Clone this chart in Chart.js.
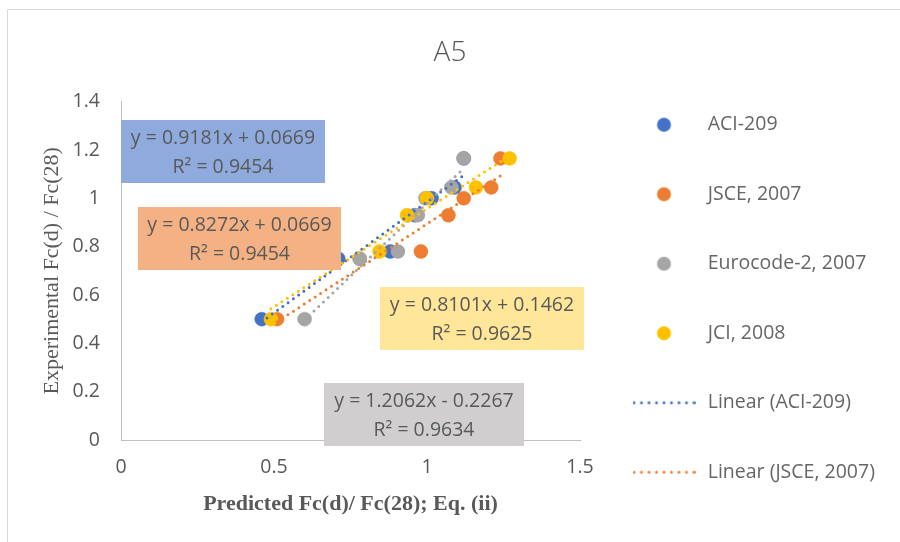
<!DOCTYPE html>
<html>
<head>
<meta charset="utf-8">
<script src="https://cdn.jsdelivr.net/npm/chart.js@4.4.1/dist/chart.umd.min.js"></script>
<style>
  html, body { margin: 0; padding: 0; background: #fff; }
  #wrap { width: 900px; height: 542px; }
</style>
</head>
<body>
<div id="wrap"><canvas id="myChart" width="900" height="542"></canvas></div>
<script>
// experimental Fc(d)/Fc(28) - same set of ages for every model
var experimental = [0.5, 0.75, 0.78, 0.93, 1.0, 1.045, 1.165];

// predicted Fc(d)/Fc(28) per model
var aci209   = [0.46, 0.71, 0.88, 0.96, 1.015, 1.09, 1.12];
var jsce     = [0.51, 0.78, 0.98, 1.07, 1.12, 1.21, 1.24];
var eurocode = [0.60, 0.78, 0.905, 0.97, 0.995, 1.08, 1.12];
var jci      = [0.49, 0.66, 0.845, 0.935, 1.0, 1.16, 1.27];

var seriesNames = ['ACI-209', 'JSCE, 2007', 'Eurocode-2, 2007', 'JCI, 2008'];
var seriesColors = ['#4472C4', '#ED7D31', '#A5A5A5', '#FFC000'];

// trendline equations as printed on the chart
var slopes = [0.9181, 0.8272, 1.2062, 0.8101];
var intercepts = [0.0669, 0.0669, -0.2267, 0.1462];
var eqLabels = ['y = 0.9181x + 0.0669', 'y = 0.8272x + 0.0669', 'y = 1.2062x - 0.2267', 'y = 0.8101x + 0.1462'];
var r2Labels = ['R\u00B2 = 0.9454', 'R\u00B2 = 0.9454', 'R\u00B2 = 0.9634', 'R\u00B2 = 0.9625'];

var xTicks = [0, 0.5, 1, 1.5];
var yTicks = [0, 0.2, 0.4, 0.6, 0.8, 1, 1.2, 1.4];

var textColor = '#595959';
var sansFont = "'Open Sans', 'Noto Sans', sans-serif";
var serifFont = "'Liberation Serif', 'DejaVu Serif', serif";

function points(xs) {
    return xs.map(function (x, i) { return { x: x, y: experimental[i] }; });
}

function trend(xs, k) {
    var lo = Math.min.apply(null, xs);
    var hi = Math.max.apply(null, xs);
    return [
        { x: lo, y: slopes[k] * lo + intercepts[k] },
        { x: hi, y: slopes[k] * hi + intercepts[k] }
    ];
}

// little pictures for the legend: a marker or a dotted line
function legendImage(color, kind) {
    var c = document.createElement('canvas');
    c.width = 63;
    c.height = 16;
    var g = c.getContext('2d');
    g.fillStyle = color;
    if (kind === 'dot') {
        g.beginPath();
        g.arc(31.5, 8, 7, 0, Math.PI * 2);
        g.fill();
    } else {
        for (var i = 0; i < 9; i++) {
            g.beginPath();
            g.arc(1.5 + i * 7.5, 8, 1.5, 0, Math.PI * 2);
            g.fill();
        }
    }
    return c;
}

function plainNumber(v) {
    return String(Math.round(v * 100) / 100);
}

var allX = [aci209, jsce, eurocode, jci];
var datasets = [];

allX.forEach(function (xs, k) {
    datasets.push({
        label: seriesNames[k],
        data: points(xs),
        backgroundColor: seriesColors[k],
        borderColor: seriesColors[k],
        borderWidth: 0.5,
        pointRadius: 7,
        pointHoverRadius: 7,
        order: 8 - k
    });
});

allX.forEach(function (xs, k) {
    datasets.push({
        label: 'Linear (' + seriesNames[k] + ')',
        data: trend(xs, k),
        showLine: true,
        borderColor: seriesColors[k],
        borderWidth: 3,
        borderDash: [0, 6.5],
        borderCapStyle: 'round',
        pointRadius: 0,
        order: 4 - k
    });
});

// equation boxes, same order as the series
var eqBoxes = [
    { x: 121, y: 120, w: 204, h: 63, fill: '#8FAADC' },
    { x: 138, y: 207, w: 203, h: 63, fill: '#F4B183' },
    { x: 324, y: 383, w: 200, h: 63, fill: '#D0CECE' },
    { x: 380, y: 287, w: 204, h: 63, fill: '#FFE699' }
];

var eqPlugin = {
    id: 'eqPlugin',
    beforeDraw: function (chart) {
        var ctx = chart.ctx;
        ctx.save();
        ctx.fillStyle = '#ffffff';
        ctx.fillRect(0, 0, chart.width, chart.height);
        ctx.strokeStyle = '#D9D9D9';
        ctx.lineWidth = 1;
        ctx.beginPath();
        ctx.moveTo(7.5, chart.height);
        ctx.lineTo(7.5, 9.5);
        ctx.lineTo(chart.width, 9.5);
        ctx.stroke();
        ctx.restore();
    },
    afterDatasetsDraw: function (chart) {
        var ctx = chart.ctx;
        ctx.save();
        ctx.font = '19.5px ' + sansFont;
        ctx.textAlign = 'center';
        ctx.textBaseline = 'middle';
        eqBoxes.forEach(function (b, k) {
            ctx.fillStyle = b.fill;
            ctx.fillRect(b.x, b.y, b.w, b.h);
            ctx.fillStyle = textColor;
            ctx.fillText(eqLabels[k], b.x + b.w / 2, b.y + 18);
            ctx.fillText(r2Labels[k], b.x + b.w / 2, b.y + 47);
        });
        ctx.restore();
    },
    afterInit: function (chart) {
        // legend fills the space right of the plot
        var lg = chart.legend;
        var fit = lg.fit;
        lg.fit = function () {
            fit.call(this);
            this.width = 320;
        };
    }
};

var ctx = document.getElementById('myChart').getContext('2d');

var myChart = new Chart(ctx, {
    type: 'scatter',
    data: { datasets: datasets },
    plugins: [eqPlugin],
    options: {
        responsive: false,
        animation: false,
        layout: { padding: 0 },
        plugins: {
            tooltip: { enabled: false },
            title: {
                display: true,
                text: 'A5',
                color: textColor,
                font: { family: sansFont, size: 28, weight: '300' },
                padding: { top: 36, bottom: 32 }
            },
            legend: {
                position: 'right',
                align: 'start',
                title: {
                    display: true,
                    text: '',
                    font: { size: 10, lineHeight: 1 },
                    padding: { top: 0, bottom: 55 }
                },
                labels: {
                    usePointStyle: true,
                    pointStyleWidth: 68,
                    padding: 50,
                    color: textColor,
                    font: { family: sansFont, size: 19.5 },
                    generateLabels: function (chart) {
                        var items = [];
                        seriesNames.forEach(function (name, k) {
                            items.push({
                                text: name,
                                fillStyle: seriesColors[k],
                                strokeStyle: seriesColors[k],
                                lineWidth: 0,
                                pointStyle: legendImage(seriesColors[k], 'dot'),
                                datasetIndex: k
                            });
                        });
                        // only the first two trendlines fit in the legend
                        [0, 1].forEach(function (k) {
                            items.push({
                                text: 'Linear (' + seriesNames[k] + ')',
                                fillStyle: seriesColors[k],
                                strokeStyle: seriesColors[k],
                                lineWidth: 0,
                                pointStyle: legendImage(seriesColors[k], 'line'),
                                datasetIndex: 4 + k
                            });
                        });
                        return items;
                    }
                }
            }
        },
        scales: {
            x: {
                type: 'linear',
                min: xTicks[0],
                max: xTicks[xTicks.length - 1],
                afterBuildTicks: function (scale) {
                    scale.ticks = xTicks.map(function (v) { return { value: v }; });
                },
                afterFit: function (scale) { scale.height = 102; },
                grid: { display: false, drawTicks: false },
                border: { display: true, color: '#BFBFBF', width: 1 },
                ticks: {
                    padding: 16,
                    color: textColor,
                    font: { family: sansFont, size: 19.5 },
                    callback: plainNumber
                },
                title: {
                    display: true,
                    text: 'Predicted Fc(d)/ Fc(28); Eq. (ii)',
                    color: textColor,
                    font: { family: serifFont, size: 22, weight: 'bold' },
                    padding: { top: 0, bottom: 24 }
                }
            },
            y: {
                type: 'linear',
                min: yTicks[0],
                max: yTicks[yTicks.length - 1],
                afterBuildTicks: function (scale) {
                    scale.ticks = yTicks.map(function (v) { return { value: v }; });
                },
                afterFit: function (scale) { scale.width = 121; },
                grid: { display: false, drawTicks: false },
                border: { display: true, color: '#BFBFBF', width: 1 },
                ticks: {
                    padding: 21,
                    color: textColor,
                    font: { family: sansFont, size: 19.5 },
                    callback: plainNumber
                },
                title: {
                    display: true,
                    text: 'Experimental Fc(d) / Fc(28)',
                    color: textColor,
                    font: { family: serifFont, size: 22 },
                    padding: { top: 39, bottom: 0 }
                }
            }
        }
    }
});
</script>
</body>
</html>
